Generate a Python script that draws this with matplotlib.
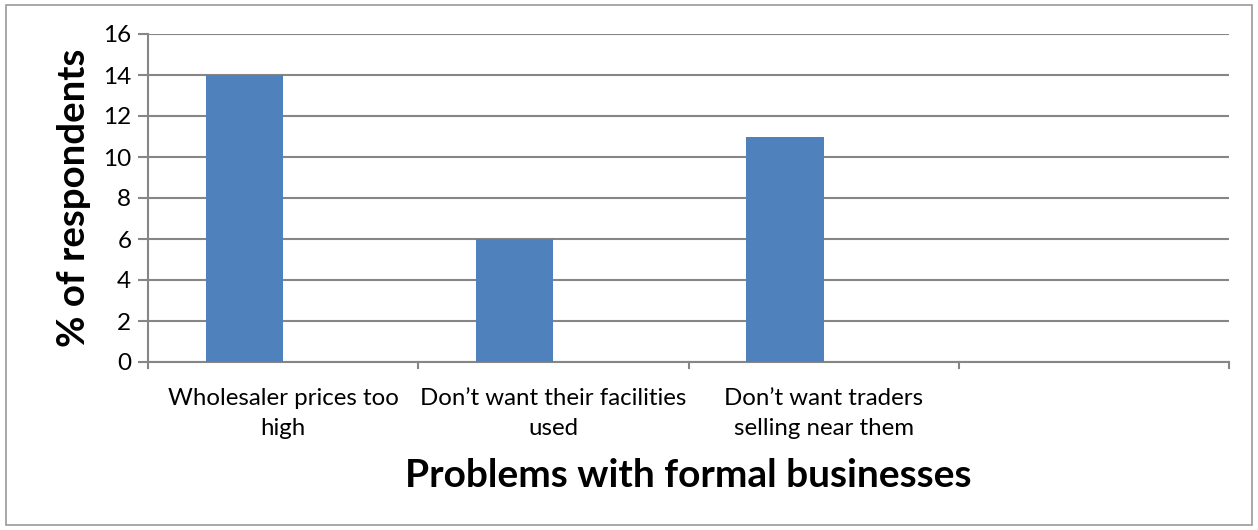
import matplotlib

matplotlib.use("Agg")

import matplotlib.pyplot as plt
from matplotlib.patches import Rectangle

categories = [
    "Wholesaler prices too\nhigh",
    "Don\u2019t want their facilities\nused",
    "Don\u2019t want traders\nselling near them",
    "",
]
values = [14, 6, 11, 0]
y_ticks = [0, 2, 4, 6, 8, 10, 12, 14, 16]

BAR_COLOR = "#4F81BD"
GRID_COLOR = "#868686"
W, H = 1258, 530

plt.rcParams["font.family"] = ["Lato", "DejaVu Sans"]

fig = plt.figure(figsize=(W / 100, H / 100), dpi=100)
fig.patches.append(Rectangle((6 / W, 5 / H), (1252 - 6) / W, (525 - 5) / H, transform=fig.transFigure,
                             fill=False, edgecolor="#9a9a9a", linewidth=1.2))

ax = fig.add_axes([148 / W, 1 - 362 / H, (1229 - 148) / W, (362 - 34) / H])

# Excel-style clustered bar with an empty second series: bar sits left of centre
width = 1 / 3.5
x = list(range(len(categories)))
ax.bar([i - width for i in x], values, width=width, align="edge", color=BAR_COLOR, zorder=3)

ax.set_xlim(-0.5, len(categories) - 0.5)
ax.set_ylim(0, 16)
ax.set_yticks(y_ticks)
ax.set_yticklabels([str(v) for v in y_ticks], fontsize=17.5)
ax.set_xticks(x)
ax.set_xticklabels(categories, fontsize=17.3, linespacing=1.5)
ax.tick_params(axis="x", length=0, pad=19)
ax.tick_params(axis="y", length=7, width=1.5, color=GRID_COLOR, pad=5)

# category boundary ticks
for b in [i - 0.5 for i in range(len(categories) + 1)]:
    ax.plot([b, b], [0, -0.3], color=GRID_COLOR, lw=1.5, clip_on=False, zorder=4)

ax.grid(axis="y", color=GRID_COLOR, linewidth=1.5, zorder=0)
for side in ["top", "right"]:
    ax.spines[side].set_visible(False)
for side in ["left", "bottom"]:
    ax.spines[side].set_color(GRID_COLOR)
    ax.spines[side].set_linewidth(1.5)

ax.set_ylabel("% of respondents", fontsize=27.6, fontweight="bold", labelpad=9)
ax.set_xlabel("Problems with formal businesses", fontsize=28, fontweight="bold", labelpad=14)

fig.savefig("out.png", dpi=100)
